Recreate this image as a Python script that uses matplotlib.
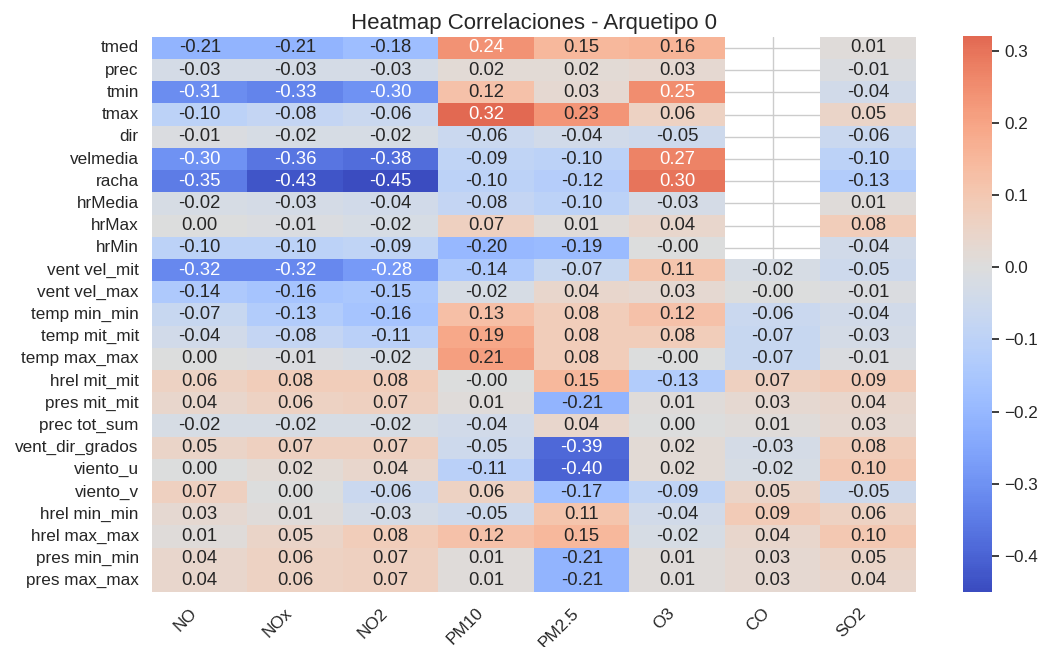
import numpy as np
import pandas as pd
import matplotlib
matplotlib.use("Agg")
import matplotlib.pyplot as plt
import seaborn as sns

# Variables meteorologicas (filas) y contaminantes (columnas)
variables = ["tmed", "prec", "tmin", "tmax", "dir", "velmedia", "racha", "hrMedia",
             "hrMax", "hrMin", "vent vel_mit", "vent vel_max", "temp min_min",
             "temp mit_mit", "temp max_max", "hrel mit_mit", "pres mit_mit",
             "prec tot_sum", "vent_dir_grados", "viento_u", "viento_v",
             "hrel min_min", "hrel max_max", "pres min_min", "pres max_max"]
contaminantes = ["NO", "NOx", "NO2", "PM10", "PM2.5", "O3", "CO", "SO2"]

nan = np.nan
corr_no = [-0.21, -0.03, -0.31, -0.10, -0.01, -0.30, -0.35, -0.02, 0.00, -0.10,
           -0.32, -0.14, -0.07, -0.04, 0.00, 0.06, 0.04, -0.02, 0.05, 0.00,
           0.07, 0.03, 0.01, 0.04, 0.04]
corr_nox = [-0.21, -0.03, -0.33, -0.08, -0.02, -0.36, -0.43, -0.03, -0.01, -0.10,
            -0.32, -0.16, -0.13, -0.08, -0.01, 0.08, 0.06, -0.02, 0.07, 0.02,
            0.00, 0.01, 0.05, 0.06, 0.06]
corr_no2 = [-0.18, -0.03, -0.30, -0.06, -0.02, -0.38, -0.45, -0.04, -0.02, -0.09,
            -0.28, -0.15, -0.16, -0.11, -0.02, 0.08, 0.07, -0.02, 0.07, 0.04,
            -0.06, -0.03, 0.08, 0.07, 0.07]
corr_pm10 = [0.24, 0.02, 0.12, 0.32, -0.06, -0.09, -0.10, -0.08, 0.07, -0.20,
             -0.14, -0.02, 0.13, 0.19, 0.21, -0.0, 0.01, -0.04, -0.05, -0.11,
             0.06, -0.05, 0.12, 0.01, 0.01]
corr_pm25 = [0.15, 0.02, 0.03, 0.23, -0.04, -0.10, -0.12, -0.10, 0.01, -0.19,
             -0.07, 0.04, 0.08, 0.08, 0.08, 0.15, -0.21, 0.04, -0.39, -0.40,
             -0.17, 0.11, 0.15, -0.21, -0.21]
corr_o3 = [0.16, 0.03, 0.25, 0.06, -0.05, 0.27, 0.30, -0.03, 0.04, -0.0,
           0.11, 0.03, 0.12, 0.08, -0.0, -0.13, 0.01, 0.00, 0.02, 0.02,
           -0.09, -0.04, -0.02, 0.01, 0.01]
corr_co = [nan, nan, nan, nan, nan, nan, nan, nan, nan, nan,
           -0.02, -0.0, -0.06, -0.07, -0.07, 0.07, 0.03, 0.01, -0.03, -0.02,
           0.05, 0.09, 0.04, 0.03, 0.03]
corr_so2 = [0.01, -0.01, -0.04, 0.05, -0.06, -0.10, -0.13, 0.01, 0.08, -0.04,
            -0.05, -0.01, -0.04, -0.03, -0.01, 0.09, 0.04, 0.03, 0.08, 0.10,
            -0.05, 0.06, 0.10, 0.05, 0.04]

df = pd.DataFrame({
    "NO": corr_no, "NOx": corr_nox, "NO2": corr_no2, "PM10": corr_pm10,
    "PM2.5": corr_pm25, "O3": corr_o3, "CO": corr_co, "SO2": corr_so2,
}, index=variables)[contaminantes]

sns.set_theme(style="whitegrid")
plt.rcParams["font.family"] = ["Liberation Sans", "DejaVu Sans"]

fig = plt.figure(figsize=(10.43, 6.47), dpi=100)
ax = fig.add_axes([0.1457, 0.085, 0.7325, 0.858])
cax = fig.add_axes([0.9233, 0.085, 0.0278, 0.859])

sns.heatmap(df, annot=True, fmt=".2f", cmap="coolwarm", center=0, ax=ax,
            cbar_ax=cax, annot_kws={"fontsize": 13.3})
ax.set_title("Heatmap Correlaciones - Arquetipo 0", fontsize=16)
ax.set_xticklabels(ax.get_xticklabels(), rotation=45, ha="right", fontsize=12.3)
ax.set_yticklabels(ax.get_yticklabels(), rotation=0, fontsize=12.3)
# marcas cortas en la barra de color, como en el original
cax.tick_params(axis="y", right=True, length=5, width=1.25, color=".15",
                labelsize=12.3, pad=4)

fig.savefig("out.png", dpi=100)
